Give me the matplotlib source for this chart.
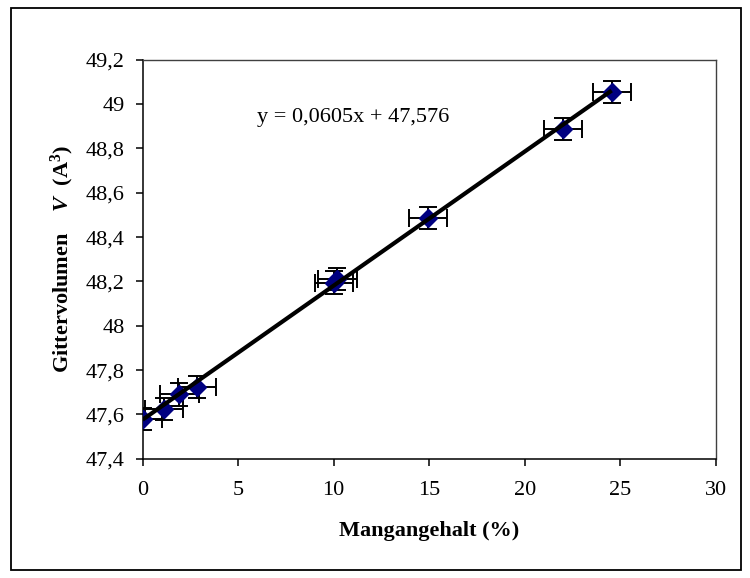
import numpy as np
import matplotlib
matplotlib.use("Agg")
import matplotlib.pyplot as plt
from matplotlib.patches import Rectangle
from matplotlib.ticker import FuncFormatter, MultipleLocator

# Manganese content (%) and lattice volume (A^3)
mangan = [0.0, 1.1, 1.93, 2.85, 10.0, 10.2, 14.95, 22.0, 24.55]
volumen = [47.58, 47.625, 47.69, 47.725, 48.195, 48.21, 48.485, 48.887, 49.053]
x_fehler = [1.0] * len(mangan)
y_fehler = [0.05] * len(mangan)

# linear trendline shown on the chart
steigung = 0.0605
achsenabschnitt = 47.576

plt.rcParams['font.family'] = ['Liberation Serif', 'DejaVu Serif']
plt.rcParams['mathtext.fontset'] = 'custom'
plt.rcParams['mathtext.rm'] = 'Liberation Serif'
plt.rcParams['mathtext.it'] = 'Liberation Serif:italic'
plt.rcParams['mathtext.bf'] = 'Liberation Serif:bold'
plt.rcParams['mathtext.bfit'] = 'Liberation Serif:bold:italic'

fig = plt.figure(figsize=(7.5, 5.78), dpi=100)
ax = fig.add_axes([142.6 / 750, 1 - 458.7 / 578, (715.8 - 142.6) / 750, (458.7 - 59.8) / 578])

# error bars
ax.errorbar(mangan, volumen, xerr=x_fehler, yerr=y_fehler, fmt='none',
            ecolor='black', elinewidth=1.4, capsize=6.5, capthick=1.4, zorder=2)
# points
ax.plot(mangan, volumen, linestyle='none', marker='D', markersize=9,
        color='#000080', zorder=3)

# trendline
xs = np.array([0, max(mangan)])
ax.plot(xs, steigung * xs + achsenabschnitt, color='black', linewidth=3.0,
        zorder=4, solid_capstyle='butt')

ax.text(6.0, 48.94, "y = 0,0605x + 47,576", fontsize=16, va='center', ha='left')

ax.set_xlim(0, 30)
ax.set_ylim(47.4, 49.2)
ax.xaxis.set_major_locator(MultipleLocator(5))
ax.yaxis.set_major_locator(MultipleLocator(0.2))


def komma(v, pos):
    return f"{round(v, 1):g}".replace('.', ',')


ax.yaxis.set_major_formatter(FuncFormatter(komma))
ax.tick_params(axis='both', direction='out', length=5, width=1.1, labelsize=16,
               top=False, right=False)
ax.tick_params(axis='x', pad=11)
ax.tick_params(axis='y', pad=8)

for s in ['left', 'bottom']:
    ax.spines[s].set_color('black')
    ax.spines[s].set_linewidth(1.1)
for s in ['top', 'right']:
    ax.spines[s].set_color('#404040')
    ax.spines[s].set_linewidth(1.0)

fig.text(429 / 750, 1 - 531 / 578, "Mangangehalt (%)", fontsize=16,
         fontweight='bold', ha='center', va='center')
fig.text(62 / 750, 1 - 259 / 578, "Gittervolumen    $\\mathbfit{V}$  (A$^{\\mathbf{3}}$)",
         fontsize=16, fontweight='bold', rotation=90, ha='center', va='center')

# outer chart frame
fig.patches.append(Rectangle((10.5 / 750, 1 - 570 / 578), (741 - 10.5) / 750,
                             (570 - 8) / 578, transform=fig.transFigure,
                             fill=False, edgecolor='black', linewidth=1.3))

fig.savefig('out.png', dpi=100)
